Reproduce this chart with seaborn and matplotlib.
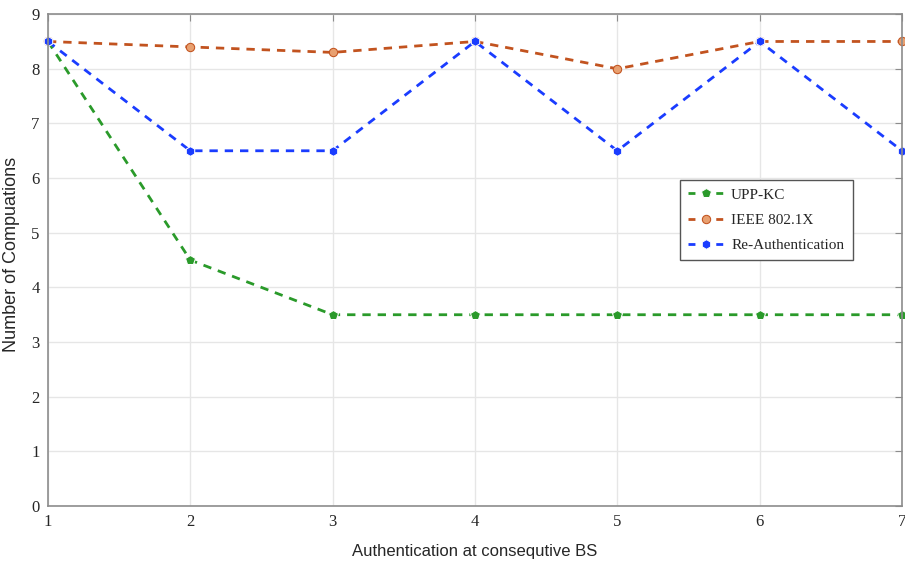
import matplotlib
matplotlib.use("Agg")
import matplotlib.pyplot as plt
import seaborn as sns
import pandas as pd

x_vals = [1, 2, 3, 4, 5, 6, 7]
upp_kc = [8.5, 4.5, 3.5, 3.5, 3.5, 3.5, 3.5]
ieee = [8.5, 8.4, 8.3, 8.5, 8.0, 8.5, 8.5]
reauth = [8.5, 6.5, 6.5, 8.5, 6.5, 8.5, 6.5]
series_names = ["UPP-KC", "IEEE 802.1X", "Re-Authentication"]

df = pd.DataFrame({
    "x": x_vals * 3,
    "y": upp_kc + ieee + reauth,
    "series": [series_names[0]] * 7 + [series_names[1]] * 7 + [series_names[2]] * 7,
})

sns.set_style("white")
fig = plt.figure(figsize=(9.05, 5.66), dpi=100)
ax = fig.add_axes([0.053, 0.106, 0.9437, 0.869])

palette = {"UPP-KC": "#2a9a2a", "IEEE 802.1X": "#c2531f", "Re-Authentication": "#1a3cff"}
markers = {"UPP-KC": "p", "IEEE 802.1X": "o", "Re-Authentication": "h"}
sns.lineplot(data=df, x="x", y="y", hue="series", style="series",
             palette=palette, markers=markers, dashes=False,
             linewidth=2, markersize=7, ax=ax, legend=True)
for line in ax.lines:
    line.set_linestyle((0, (3, 2.5)))
    line.set_clip_on(False)
for line in ax.lines:
    if line.get_color() == "#c2531f":
        line.set_markerfacecolor("#e8a070")
        line.set_markeredgecolor("#c2531f")
        line.set_markersize(6)

ax.set_xlim(1, 7)
ax.set_ylim(0, 9)
ax.set_xticks(x_vals)
ax.set_yticks(range(0, 10))
ax.grid(True, color="#e6e6e6", linewidth=1)
for s in ax.spines.values():
    s.set_color("#8c8c8c")
    s.set_linewidth(1.2)
ax.tick_params(direction="in", length=5, color="#8c8c8c", top=True, right=True,
               labelsize=12, pad=6)
for lab in ax.get_xticklabels() + ax.get_yticklabels():
    lab.set_fontfamily("Liberation Serif")
ax.set_xlabel("Authentication at consequtive BS", fontsize=12, family="Liberation Sans", labelpad=10)
ax.set_ylabel("Number of Compuations", fontsize=13, family="Liberation Sans")
ax.yaxis.set_label_coords(-0.033, 0.512)

leg = ax.legend(loc="upper left", bbox_to_anchor=(0.731, 0.679), frameon=True,
                fancybox=False, edgecolor="#555555", framealpha=1,
                prop={"family": "Liberation Serif", "size": 11},
                handlelength=2.3, handletextpad=0.5, borderpad=0.55, labelspacing=0.75)
leg.get_frame().set_linewidth(1)
for h in leg.legend_handles:
    h.set_linestyle((0, (2.5, 2.5)))

fig.savefig("out.png", dpi=100)
